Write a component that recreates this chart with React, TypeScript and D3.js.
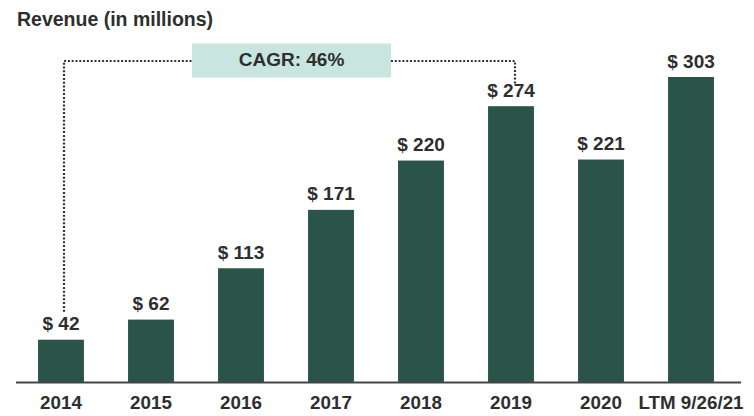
import React from "react";
import * as d3 from "d3";

const categories = ["2014", "2015", "2016", "2017", "2018", "2019", "2020", "LTM 9/26/21"];
const revenue = [42, 62, 113, 171, 220, 274, 221, 303];
const title = "Revenue (in millions)";
const cagrLabel = "CAGR: 46%";

const W = 754;
const H = 416;
const FONT = "'Liberation Sans', Arial, Helvetica, sans-serif";
const BAR = "#2b5449";
const TEXT = "#2e2e2e";

export default function App() {
  const x = d3.scaleBand<string>().domain(categories).range([16, 736]).paddingInner(0.49).paddingOuter(0.245);
  const y = d3.scaleLinear().domain([0, 303]).range([382, 77]);
  const bw = x.bandwidth();

  const c0 = (x(categories[0]) as number) + bw / 2 + 3;
  const c5 = (x(categories[5]) as number) + bw / 2 + 4;
  const lineY = 61;
  const boxX0 = 192, boxX1 = 391, boxY0 = 43.5, boxY1 = 77.5;

  return (
    <svg width={W} height={H} style={{ position: "absolute", left: 0, top: 0, display: "block" }}>
      <rect x={0} y={0} width={W} height={H} fill="#ffffff" />
      <text x={17} y={26} fontFamily={FONT} fontWeight="bold" fontSize={19.5} fill={TEXT}>{title}</text>

      {/* dotted connector */}
      <path
        d={`M${c0},${y(revenue[0]) - 28} V${lineY} H${boxX0} M${boxX1},${lineY} H${c5} V${y(revenue[5]) - 22}`}
        fill="none"
        stroke="#333"
        strokeWidth={2.2}
        strokeDasharray="2 1.8"
      />
      <rect x={boxX0} y={boxY0} width={boxX1 - boxX0} height={boxY1 - boxY0} fill="#c8e5df" />
      <text x={(boxX0 + boxX1) / 2} y={66} textAnchor="middle" fontFamily={FONT} fontWeight="bold" fontSize={19} fill={TEXT}>{cagrLabel}</text>

      {categories.map((c, i) => {
        const bx = x(c) as number;
        return (
          <g key={c}>
            <rect x={bx} y={y(revenue[i])} width={bw} height={y(0) - y(revenue[i])} fill={BAR} />
            <text x={bx + bw / 2} y={y(revenue[i]) - 9.5} textAnchor="middle" fontFamily={FONT} fontWeight="bold" fontSize={19} fill={TEXT}>
              {`$ ${revenue[i]}`}
            </text>
            <text x={bx + bw / 2} y={409} textAnchor="middle" fontFamily={FONT} fontWeight="bold" fontSize={18.8} fill={TEXT}>
              {c}
            </text>
          </g>
        );
      })}
      <line x1={16} x2={741} y1={382.5} y2={382.5} stroke="#444" strokeWidth={2} />
    </svg>
  );
}
